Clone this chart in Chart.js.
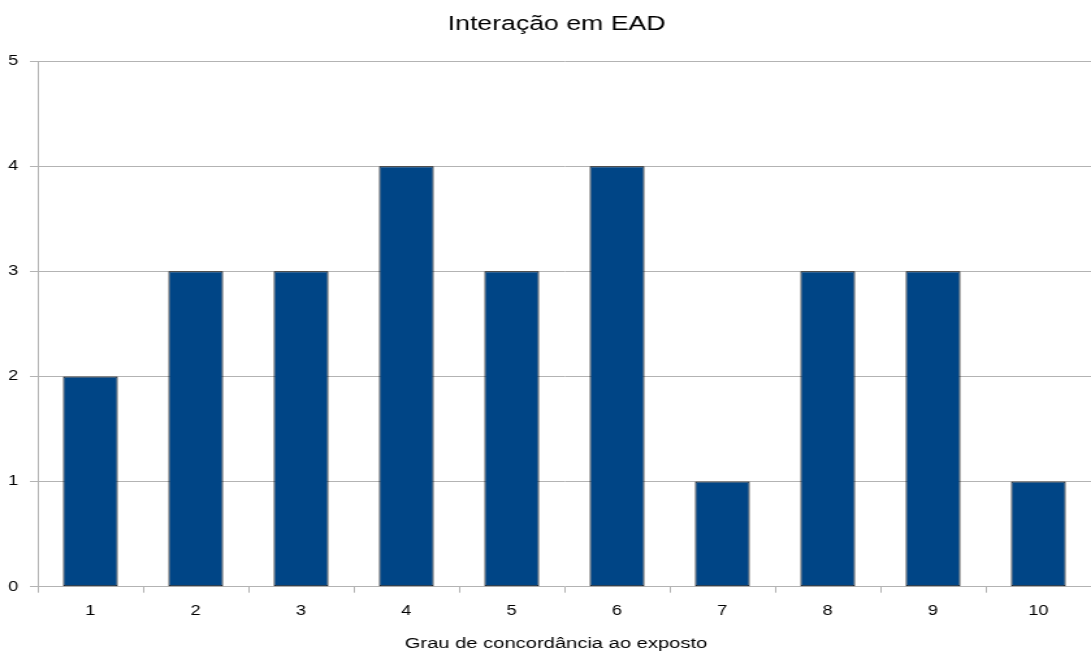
<!DOCTYPE html>
<html>
<head>
<meta charset="utf-8">
<script src="https://cdn.jsdelivr.net/npm/chart.js@4/dist/chart.umd.min.js"></script>
<style>
  html, body { margin: 0; padding: 0; background: #fff; overflow: hidden; }
  /* the chart is laid out on a narrower canvas and widened to the page width */
  #wrap { width: 839px; height: 651px; transform: scaleX(1.3004); transform-origin: 0 0; }
</style>
</head>
<body>
<div id="wrap"><canvas id="c" width="839" height="651"></canvas></div>
<script>
// Respostas por grau de concordância
const categories = ['1', '2', '3', '4', '5', '6', '7', '8', '9', '10'];
const counts = [2, 3, 3, 4, 3, 4, 1, 3, 3, 1];
const yTicks = [0, 1, 2, 3, 4, 5];

const FONT = '"Liberation Sans", Arial, sans-serif';
const GRID = '#b3b3b3';

new Chart(document.getElementById('c'), {
  type: 'bar',
  data: {
    labels: categories,
    datasets: [{
      data: counts,
      backgroundColor: '#004586',
      borderColor: '#000000',
      borderWidth: 1,
      borderSkipped: false,
      barPercentage: 0.52,
      categoryPercentage: 1
    }]
  },
  options: {
    responsive: false,
    animation: false,
    devicePixelRatio: 1,
    layout: { padding: { top: 12, right: 0, bottom: 0, left: 0 } },
    plugins: {
      legend: { display: false },
      tooltip: { enabled: false },
      title: {
        display: true,
        text: '   Interação em EAD',
        color: '#000',
        font: { family: FONT, size: 20.5, weight: 'normal', lineHeight: 1.2 },
        padding: { top: 0, bottom: 24.4 }
      }
    },
    scales: {
      x: {
        offset: true,
        grid: {
          offset: true,
          drawOnChartArea: false,
          drawTicks: true,
          tickLength: 6,
          color: GRID,
          lineWidth: 1
        },
        border: { display: false },
        ticks: {
          color: '#000',
          font: { family: FONT, size: 14 },
          padding: 10,
          maxRotation: 0
        },
        title: {
          display: true,
          text: 'Grau de concordância ao exposto   ',
          color: '#000',
          font: { family: FONT, size: 15.5, lineHeight: 1.0 },
          padding: { top: 6, bottom: 0 }
        }
      },
      y: {
        min: 0,
        max: 5,
        afterFit: (s) => { s.width = 29; },
        afterBuildTicks: (s) => { s.ticks = yTicks.map(v => ({ value: v })); },
        grid: {
          drawTicks: true,
          tickLength: 6,
          color: GRID,
          lineWidth: 1
        },
        border: { display: true, color: GRID, width: 1 },
        ticks: {
          color: '#000',
          font: { family: FONT, size: 14 },
          padding: 9
        }
      }
    }
  }
});
</script>
</body>
</html>
